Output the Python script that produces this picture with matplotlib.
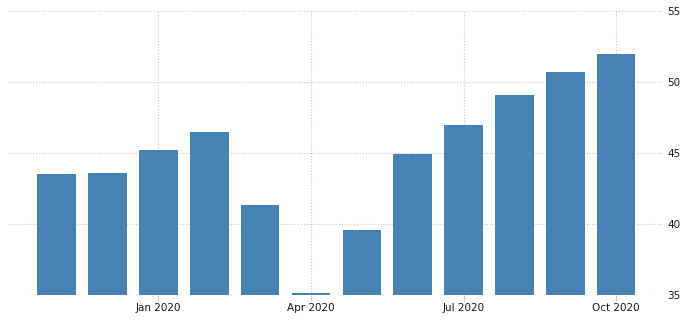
import matplotlib
matplotlib.use("Agg")
import matplotlib.pyplot as plt
import numpy as np

# monthly values, Nov 2019 .. Oct 2020
months = ['Nov 2019', 'Dec 2019', 'Jan 2020', 'Feb 2020', 'Mar 2020', 'Apr 2020',
          'May 2020', 'Jun 2020', 'Jul 2020', 'Aug 2020', 'Sep 2020', 'Oct 2020']
values = [43.5, 43.6, 45.2, 46.5, 41.3, 35.1, 39.6, 44.9, 47.0, 49.1, 50.7, 52.0]
tick_labels = ['Jan 2020', 'Apr 2020', 'Jul 2020', 'Oct 2020']
y_ticks = [35, 40, 45, 50, 55]


def main():
    fig = plt.figure(figsize=(6.88, 3.23), dpi=100)
    ax = fig.add_axes([0.013, 0.087, 0.949, 0.879])

    x = np.arange(len(months))
    ax.bar(x, values, width=0.76, color='#4682B4', zorder=2)

    tick_pos = [months.index(t) for t in tick_labels]
    ax.set_xticks(tick_pos)
    ax.set_xticklabels(tick_labels)
    ax.set_xlim(-0.94, 11.9)

    ax.set_ylim(35, 55)
    ax.set_yticks(y_ticks)
    ax.yaxis.tick_right()

    ax.grid(True, color='#c8c8c8', linestyle=':', linewidth=0.8, zorder=0)
    for s in ax.spines.values():
        s.set_visible(False)

    ax.tick_params(axis='x', length=4, color='#c8c8c8', labelsize=7.5,
                   labelcolor='#1a1a1a', pad=2)
    ax.tick_params(axis='y', length=0, labelsize=7.5, labelcolor='#1a1a1a', pad=4)

    fig.savefig('out.png', dpi=100)


if __name__ == '__main__':
    main()
